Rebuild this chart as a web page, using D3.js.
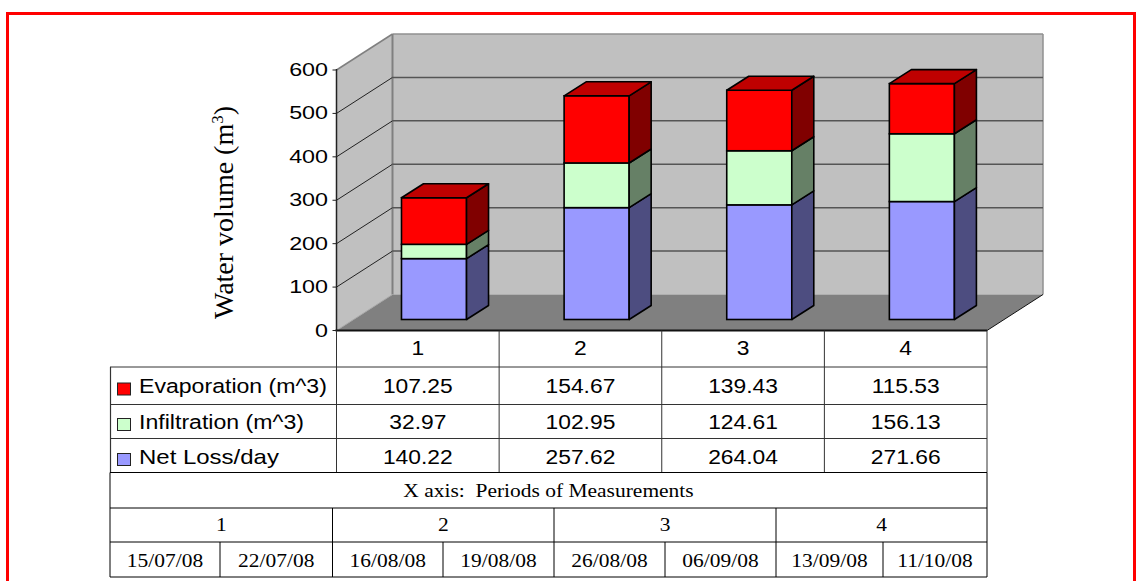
<!DOCTYPE html>
<html><head><meta charset="utf-8">
<script src="https://cdn.jsdelivr.net/npm/d3@7"></script>
<style>html,body{margin:0;padding:0;background:#fff;overflow:hidden}svg{display:block}
.sans{font-family:"Liberation Sans",Arial,sans-serif;fill:#000}
.serif{font-family:"Liberation Serif","Times New Roman",serif;fill:#000}</style>
</head><body><svg id="c" width="1136" height="581"></svg>
<script>
const periods = ["1","2","3","4"];
const netLoss = [140.22,257.62,264.04,271.66];
const infiltration = [32.97,102.95,124.61,156.13];
const evaporation = [107.25,154.67,139.43,115.53];
const yTicks = [0,100,200,300,400,500,600];
const rowNames = ["Evaporation (m^3)","Infiltration (m^3)","Net Loss/day"];
const rowValues = [evaporation,infiltration,netLoss];
const rowColors = ["#ff0000","#ccffcc","#9999ff"];
const subPeriods = ["1","2","3","4"];
const dates = ["15/07/08","22/07/08","16/08/08","19/08/08","26/08/08","06/09/08","13/09/08","11/10/08"];

const svg = d3.select("#c");
const L=336.5,R=987,B=330.5,T=70,DX=56,DY=-36;
const x = d3.scaleBand().domain(periods).range([L,R]).paddingInner(0.6).paddingOuter(0.3);
const xCat = d3.scaleBand().domain(periods).range([L,R]);
const y = d3.scaleLinear().domain([0,600]).range([B,T]);
const barDX=22,barDY=-14,offX=16.2,offY=-11;
const poly=(pts,fill,stroke,sw)=>svg.append("polygon").attr("points",pts.map(p=>p.join(",")).join(" ")).attr("fill",fill).attr("stroke",stroke||"none").attr("stroke-width",sw||0).attr("stroke-linejoin","round");
const line=(x1,y1,x2,y2,c,w)=>svg.append("line").attr("x1",x1).attr("y1",y1).attr("x2",x2).attr("y2",y2).attr("stroke",c).attr("stroke-width",w);
const label=(px,py,t,cls,fs,sx,anchor)=>svg.append("text").attr("class",cls).attr("transform",`translate(${px},${py}) scale(${sx},1)`).attr("text-anchor",anchor||"middle").attr("font-size",fs).style("white-space","pre").text(t);

svg.append("rect").attr("x",7.5).attr("y",13.5).attr("width",1127).attr("height",600).attr("fill","#fff").attr("stroke","#ff0000").attr("stroke-width",3);

poly([[L,B],[L+DX,B+DY],[L+DX,T+DY],[L,T]],"#c0c0c0");
poly([[L+DX,B+DY],[R+DX,B+DY],[R+DX,T+DY],[L+DX,T+DY]],"#c0c0c0");
poly([[L,B],[R,B],[R+DX,B+DY],[L+DX,B+DY]],"#808080");
line(L,T,L+DX,T+DY,"#808080",1.5);
line(L+DX,T+DY,R+DX,T+DY,"#909090",1.5);
line(L+DX,T+DY,L+DX,B+DY,"#808080",2);
line(R+DX,T+DY,R+DX,B+DY,"#909090",1.5);
line(R,B,R+DX,B+DY,"#111",1);
yTicks.filter(t=>t>0&&t<600).forEach(t=>{
  line(L,y(t),L+DX,y(t)+DY,"#222",1);
  line(L+DX,y(t)+DY,R+DX,y(t)+DY,"#555",1.5);
});
line(L,B,L+DX,B+DY,"#a8a8a8",1);

const stack = d3.stack().keys([0,1,2]).value((d,k)=>d[k]);
const layers = stack(periods.map((p,i)=>[netLoss[i],infiltration[i],evaporation[i]]));
const faces=[["#9999ff","#4d4d80"],["#ccffcc","#668066"],["#ff0000","#800000"]];
const bs=1.6;
periods.forEach((p,i)=>{
  const x0=x(p)+offX,w=x.bandwidth();
  layers.forEach((ly,k)=>{
    const y0=y(ly[i][0])+offY,y1=y(ly[i][1])+offY,c=faces[k];
    svg.append("rect").attr("x",x0).attr("y",y1).attr("width",w).attr("height",y0-y1).attr("fill",c[0]).attr("stroke","#000").attr("stroke-width",bs);
    poly([[x0+w,y0],[x0+w+barDX,y0+barDY],[x0+w+barDX,y1+barDY],[x0+w,y1]],c[1],"#000",bs);
    if(k==2) poly([[x0,y1],[x0+barDX,y1+barDY],[x0+w+barDX,y1+barDY],[x0+w,y1]],"#bf0000","#000",bs);
  });
});

line(L,T-1,L,B,"#222",1.5);
line(L-1,B,R,B,"#111",2);
yTicks.forEach(t=>{
  line(L-4,y(t),L,y(t),"#222",1);
  label(L-8.5,y(t)+6,String(t),"sans",18.5,1.26,"end");
});
const yl=svg.append("text").attr("class","serif").attr("transform","translate(233,212.5) rotate(-90)").attr("text-anchor","middle").attr("font-size",28);
yl.append("tspan").text("Water volume (m");
yl.append("tspan").attr("font-size",17).attr("dy",-10).text("3");
yl.append("tspan").attr("dy",10).text(")");

const rowY=[330.5,367,404.5,438.5,472.5];
const rowBase=[393,428.5,463.5];
const tc="#333";
periods.forEach((p,i)=>{
  const xa=xCat(p),xb=xa+xCat.bandwidth(),m=(xa+xb)/2;
  label(m,355,p,"sans",19.5,1.17);
  line(xb,B,xb,rowY[4],tc,1);
  rowValues.forEach((r,k)=>label(m,rowBase[k],r[i].toFixed(2),"sans",19.5,1.17));
});
line(L,B,L,rowY[4],tc,1);
line(110.5,rowY[1],110.5,rowY[4],tc,1.2);
[rowY[1],rowY[2],rowY[3]].forEach(v=>line(110,v,R,v,tc,1));
const nameWidth=[188,165,140];
rowNames.forEach((n,k)=>{
  const ty=rowBase[k];
  svg.append("rect").attr("x",117.5).attr("y",ty-10).attr("width",13).attr("height",12).attr("fill",rowColors[k]).attr("stroke","#222").attr("stroke-width",1);
  const t=label(139,ty,n,"sans",19.5,1,"start");
  t.attr("transform",`translate(139,${ty}) scale(${nameWidth[k]/t.node().getComputedTextLength()},1)`);
});

const midX=[110,220,332.5,443,554,665,776,883,987];
const row=[472.5,508,542,577];
row.forEach(v=>line(110,v,987,v,"#000",1));
line(110,row[0],110,row[3],"#000",1);line(987,row[0],987,row[3],"#000",1);
[2,4,6].forEach(i=>line(midX[i],row[1],midX[i],row[3],"#000",1));
[1,3,5,7].forEach(i=>line(midX[i],row[2],midX[i],row[3],"#000",1));
label(548.5,497,"X axis:  Periods of Measurements","serif",19,1.13);
subPeriods.forEach((p,i)=>label((midX[i*2]+midX[i*2+2])/2,531,p,"serif",19,1.13));
dates.forEach((d,i)=>label((midX[i]+midX[i+1])/2,567,d,"serif",19,1.13));
</script></body></html>
